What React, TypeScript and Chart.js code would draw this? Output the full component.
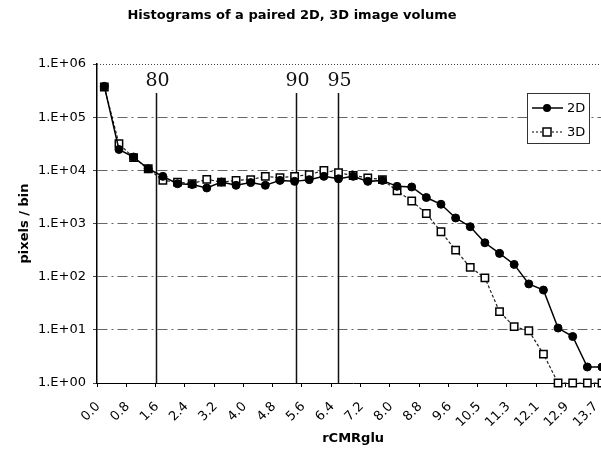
import React, { useEffect, useRef } from 'react';
import { Chart, registerables } from 'chart.js';

Chart.register(...registerables);

const TITLE = 'Histograms of a paired 2D, 3D image volume';
const X_TITLE = 'rCMRglu';
const Y_TITLE = 'pixels / bin';

const categories = [
  '0.0', '0.4', '0.8', '1.2', '1.6', '2.0', '2.4', '2.8', '3.2', '3.6',
  '4.0', '4.4', '4.8', '5.2', '5.6', '6.0', '6.4', '6.8', '7.2', '7.6',
  '8.0', '8.4', '8.8', '9.2', '9.6', '10.1', '10.5', '10.9', '11.3', '11.7',
  '12.1', '12.5', '12.9', '13.3', '13.7',
];

const series2D = [
  380000, 24700, 17800, 10700, 7700, 5600, 5400, 4660, 6030, 5230,
  5880, 5230, 6470, 6200, 6680, 7700, 6940, 7700, 6200, 6470,
  5000, 4860, 3080, 2300, 1270, 870, 434, 274, 170, 73,
  56, 10.8, 7.5, 2, 2,
];

const series3D = [
  370000, 31600, 17300, 10700, 6470, 6000, 5620, 6770, 6000, 6470,
  6700, 7700, 7280, 7700, 8300, 10000, 9030, 8000, 7200, 6700,
  4100, 2650, 1540, 700, 316, 150, 95, 22, 11.5, 9.6,
  3.5, 1, 1, 1, 1,
];

const yTickValues = [1, 10, 100, 1000, 10000, 100000, 1000000];
const yTickLabels = ['1.E+00', '1.E+01', '1.E+02', '1.E+03', '1.E+04', '1.E+05', '1.E+06'];

const percentileLabels = ['80', '90', '95'];
const percentileValues = [1.40, 5.23, 6.38];

const SANS = 'DejaVu Sans';
const SERIF = 'DejaVu Serif';

function valueToIndex(v: number): number {
  const nums = categories.map(Number);
  for (let i = 0; i < nums.length - 1; i++) {
    if (v >= nums[i] && v <= nums[i + 1]) {
      return i + (v - nums[i]) / (nums[i + 1] - nums[i]);
    }
  }
  return nums.length - 1;
}

const decorPlugin = {
  id: 'decor',
  beforeDatasetsDraw(chart: any) {
    const { ctx, chartArea, scales } = chart;
    const x = scales.x;
    ctx.save();
    ctx.strokeStyle = '#444';
    ctx.lineWidth = 1;
    ctx.setLineDash([1, 2]);
    ctx.beginPath();
    ctx.moveTo(chartArea.left, chartArea.top + 0.5);
    ctx.lineTo(chartArea.right, chartArea.top + 0.5);
    ctx.stroke();
    ctx.setLineDash([]);
    percentileValues.forEach((v, i) => {
      const px = Math.round(x.getPixelForValue(valueToIndex(v))) + 0.5;
      ctx.strokeStyle = '#111';
      ctx.lineWidth = 1.5;
      ctx.beginPath();
      ctx.moveTo(px, chartArea.top + 29);
      ctx.lineTo(px, chartArea.bottom);
      ctx.stroke();
      ctx.fillStyle = '#111';
      ctx.font = `19px "${SERIF}"`;
      ctx.textAlign = 'center';
      ctx.textBaseline = 'alphabetic';
      ctx.fillText(percentileLabels[i], px + 1, chartArea.top + 22);
    });
    ctx.restore();
  },
  afterDraw(chart: any) {
    const { ctx } = chart;
    ctx.save();
    ctx.fillStyle = '#000';
    ctx.font = `bold 13px "${SANS}"`;
    ctx.textAlign = 'center';
    ctx.textBaseline = 'middle';
    ctx.fillText(TITLE, 292, 16);
    const bx = 527, by = 93, bw = 62, bh = 50;
    ctx.fillStyle = '#fff';
    ctx.fillRect(bx, by, bw, bh);
    ctx.strokeStyle = '#333';
    ctx.lineWidth = 1;
    ctx.strokeRect(bx + 0.5, by + 0.5, bw, bh);
    const rows = [
      { label: '2D', y: 108, dash: [] as number[], marker: 'circle' },
      { label: '3D', y: 132, dash: [2, 2], marker: 'rect' },
    ];
    rows.forEach((r) => {
      ctx.strokeStyle = '#000';
      ctx.lineWidth = r.marker === 'circle' ? 1.5 : 1.2;
      ctx.setLineDash(r.dash);
      ctx.beginPath();
      ctx.moveTo(532, r.y);
      ctx.lineTo(563, r.y);
      ctx.stroke();
      ctx.setLineDash([]);
      if (r.marker === 'circle') {
        ctx.fillStyle = '#000';
        ctx.beginPath();
        ctx.arc(547, r.y, 4, 0, Math.PI * 2);
        ctx.fill();
      } else {
        ctx.fillStyle = '#fff';
        ctx.fillRect(543, r.y - 4, 8, 8);
        ctx.lineWidth = 1.5;
        ctx.strokeRect(543, r.y - 4, 8, 8);
      }
      ctx.fillStyle = '#000';
      ctx.font = `13px "${SANS}"`;
      ctx.textAlign = 'left';
      ctx.textBaseline = 'middle';
      ctx.fillText(r.label, 567, r.y + 0.5);
    });
    ctx.restore();
  },
};

export default function App() {
  const ref = useRef<HTMLCanvasElement>(null);
  useEffect(() => {
    if (!ref.current) return;
    Chart.defaults.font.family = SANS;
    const chart = new Chart(ref.current, {
      type: 'line',
      data: {
        labels: categories,
        datasets: [
          {
            label: '2D',
            data: series2D,
            borderColor: '#000',
            backgroundColor: '#000',
            borderWidth: 1.5,
            pointStyle: 'circle',
            pointRadius: 4,
            pointBackgroundColor: '#000',
            pointBorderColor: '#000',
            pointBorderWidth: 1,
            clip: false,
          } as any,
          {
            label: '3D',
            data: series3D,
            borderColor: '#222',
            backgroundColor: '#fff',
            borderWidth: 1.2,
            borderDash: [3, 2],
            pointStyle: 'rect',
            pointRadius: 5.2,
            pointBackgroundColor: '#fff',
            pointBorderColor: '#000',
            pointBorderWidth: 1.5,
            clip: false,
          } as any,
        ],
      },
      options: {
        responsive: false,
        devicePixelRatio: 1,
        animation: false,
        layout: { padding: { top: 64, right: 0, left: 0, bottom: 0 } },
        plugins: {
          legend: { display: false },
          title: { display: false },
          tooltip: { enabled: false },
        },
        scales: {
          x: {
            type: 'category',
            offset: true,
            grid: {
              offset: true,
              drawOnChartArea: false,
              drawTicks: true,
              tickLength: 4,
              color: (c: any) => (c.index % 2 === 0 ? '#000' : 'rgba(0,0,0,0)'),
            },
            border: { color: '#000', width: 1 },
            ticks: {
              autoSkip: false,
              maxRotation: 45,
              minRotation: 45,
              labelOffset: -6,
              padding: 12,
              color: '#000',
              font: { family: SANS, size: 13 },
              callback: (_v: any, i: number) => (i % 2 === 0 ? categories[i] : ''),
            },
            title: {
              display: true,
              text: X_TITLE,
              color: '#000',
              font: { family: SANS, size: 13, weight: 'bold' },
              padding: { top: 0, bottom: 10 },
            },
            afterFit: (s: any) => {
              s.height = 73;
              s.paddingRight = 0;
            },
          },
          y: {
            type: 'logarithmic',
            min: 1,
            max: 1000000,
            afterBuildTicks: (s: any) => {
              s.ticks = yTickValues.map((v) => ({ value: v }));
            },
            grid: {
              color: (c: any) =>
                c.tick && (c.tick.value === 1000000 || c.tick.value === 1) ? 'rgba(0,0,0,0)' : '#666',
              tickColor: '#444',
              tickLength: 4,
              lineWidth: 1,
            },
            border: { color: '#000', width: 1.5, dash: [10, 4, 2, 4] },
            ticks: {
              padding: 7,
              color: '#000',
              font: { family: SANS, size: 13 },
              callback: (v: any) => {
                const idx = yTickValues.indexOf(Number(v));
                return idx >= 0 ? yTickLabels[idx] : '';
              },
            },
            title: {
              display: true,
              text: Y_TITLE,
              color: '#000',
              font: { family: SANS, size: 13, weight: 'bold' },
              padding: { top: 17, bottom: 0 },
            },
            afterFit: (s: any) => {
              s.width = 97;
            },
          },
        },
      } as any,
      plugins: [decorPlugin],
    });
    return () => chart.destroy();
  }, []);
  return (
    <div
      style={{
        position: 'fixed',
        left: 0,
        top: 0,
        width: 601,
        height: 456,
        overflow: 'hidden',
        background: '#fff',
      }}
    >
      <canvas ref={ref} width={616} height={456} style={{ display: 'block' }} />
    </div>
  );
}
